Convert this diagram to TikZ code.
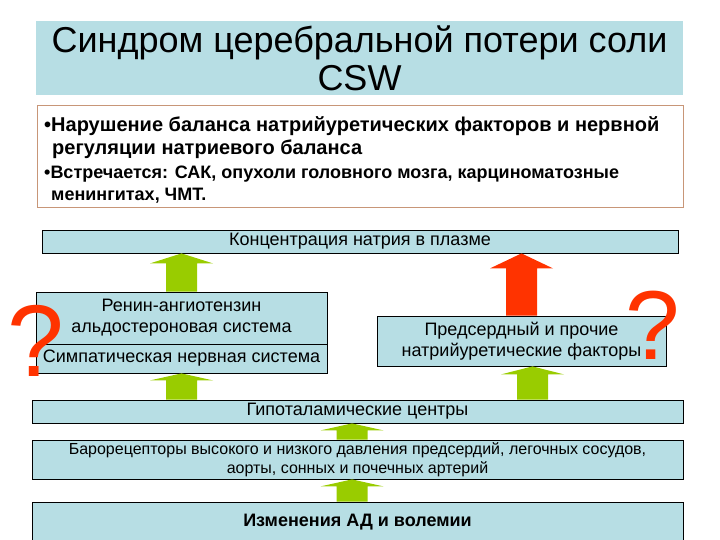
\documentclass[tikz,border=0pt]{standalone}
\usepackage{fontspec}
\setmainfont{Liberation Sans}
\usetikzlibrary{calc,positioning}

\definecolor{cswblue}{RGB}{183,222,228}
\definecolor{cswgreen}{RGB}{153,204,0}
\definecolor{cswred}{RGB}{255,51,0}
\definecolor{cswframe}{RGB}{200,150,120}

% fat block arrow: colour, x, from node, to node, head length
\newcommand{\fatarrow}[5]{%
  \fill[#1] ($(#2-15.5,0 |- #3.north)$) -- ($(#2-15.5,0 |- #4.south)+(0,#5)$)
    -- ($(#2-31.5,0 |- #4.south)+(0,#5)$) -- (#2,0 |- #4.south)
    -- ($(#2+31.5,0 |- #4.south)+(0,#5)$) -- ($(#2+15.5,0 |- #4.south)+(0,#5)$)
    -- ($(#2+15.5,0 |- #3.north)$) -- cycle;}

\begin{document}
\begin{tikzpicture}[
    x=1pt, y=-1pt,
    box/.style={draw, fill=cswblue, inner sep=0pt, align=center, line width=0.8pt},
    txt/.style={font=\fontsize{18}{21}\selectfont},
    small/.style={font=\fontsize{16}{19}\selectfont},
    bullet/.style={inner sep=0pt, align=left, anchor=north west},
    qmark/.style={text=cswred, inner sep=0pt, anchor=base, font=\fontsize{102}{102}\selectfont},
]
\useasboundingbox (0,0) rectangle (720,540);

% title and notes
\node[fill=cswblue, minimum width=647pt, minimum height=74pt, align=center,
      font=\fontsize{36}{38}\selectfont] (title) at (359.5,58) {Синдром церебральной потери соли\\CSW};
\node[draw=cswframe, fill=white, minimum width=646pt, minimum height=102pt, line width=0.8pt] (info) at (360,156) {};
\node[bullet, font=\fontsize{20}{23}\selectfont\bfseries] (b1) at (44,116)
    {•Нарушение баланса натрийуретических факторов и нервной\\\hspace*{8pt}регуляции натриевого баланса};
\node[bullet, font=\fontsize{18}{22}\selectfont\bfseries] (b2) at (44,166)
    {•Встречается: САК, опухоли головного мозга, карциноматозные\\\hspace*{7pt}менингитах, ЧМТ.};

% boxes
\node[box, txt, minimum width=636pt, minimum height=23pt] (konc) at (360,241.5) {Концентрация натрия в плазме};
\node[box, txt, minimum width=291pt, minimum height=52pt] (raas) at (181.5,318) {Ренин-ангиотензин\\альдостероновая система};
\node[box, txt, minimum width=291pt, minimum height=29pt] (symp) at (181.5,358.5) {Симпатическая нервная система};
\node[box, txt, minimum width=289pt, minimum height=50pt] (pred) at (521.5,341) {Предсердный и прочие\\натрийуретические факторы};
\node[box, txt, minimum width=651pt, minimum height=23pt] (hypo) at (357.5,411.5) {Гипоталамические центры};
\node[box, small, minimum width=651pt, minimum height=39pt] (baro) at (357.5,459.5)
    {Барорецепторы высокого и низкого давления предсердий, легочных сосудов,\\аорты, сонных и почечных артерий};
\node[box, txt, font=\fontsize{18}{21}\selectfont\bfseries, minimum width=651pt, minimum height=40pt] (izm) at (357.5,522) {Изменения АД и волемии};

% arrows
\fatarrow{cswgreen}{181.5}{raas}{konc}{10}
\fatarrow{cswred}{521.5}{pred}{konc}{15}
\fatarrow{cswgreen}{181.5}{hypo}{symp}{7}
\fatarrow{cswgreen}{532.5}{hypo}{pred}{8}
\fatarrow{cswgreen}{352}{baro}{hypo}{7}
\fatarrow{cswgreen}{352}{izm}{baro}{7}

% question marks
\node[qmark] (qleft) at (36,376) {?};
\node[qmark, font=\fontsize{98}{98}\selectfont] (qright) at (653,359) {?};
\end{tikzpicture}
\end{document}
